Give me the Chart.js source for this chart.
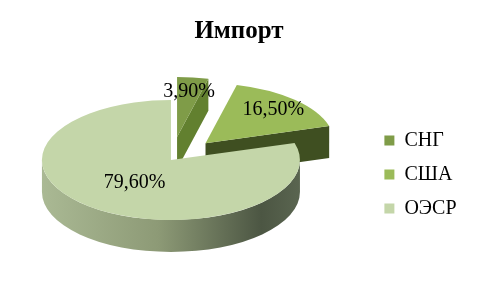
<!DOCTYPE html>
<html>
<head>
<meta charset="utf-8">
<script src="https://cdn.jsdelivr.net/npm/chart.js@4.4.1/dist/chart.umd.min.js"></script>
<style>
  html, body { margin: 0; padding: 0; background: #fff; }
</style>
</head>
<body>
<canvas id="importChart" width="478" height="299"></canvas>
<script>
// данные
const regions = ['СНГ', 'США', 'ОЭСР'];
const shares = [3.9, 16.5, 79.6];

// цвета: верх долей, боковые грани, тень обода
const topColors = ['#7f9c48', '#9bbb59', '#c4d6a9'];
const sideColors = ['#62802f', '#3f4f21', '#7b8865'];
const rimShade = ['#aab994', '#8d9a76', '#4c5643', '#5a6550'];

const TILT = 0.465;     // сплющивание круга в эллипс
const DEPTH = 32;       // толщина "3D" диска
const LABEL_POS = 0.47; // подпись вдоль радиуса
const LABEL_PUSH = 1.75; // вынесенные доли - подпись дальше

const fmt = v => v.toFixed(2).replace('.', ',') + '%';

function geom(arc) {
  const p = arc.getProps(['x', 'y', 'startAngle', 'endAngle', 'outerRadius']);
  const mid = (p.startAngle + p.endAngle) / 2;
  const off = arc.options.offset || 0;
  return {
    s: p.startAngle, e: p.endAngle, r: p.outerRadius, mid, off,
    cx: p.x + Math.cos(mid) * off,
    cy: p.y + Math.sin(mid) * off * TILT,
    x0: p.x, y0: p.y
  };
}

const pie3d = {
  id: 'pie3d',
  beforeDatasetsDraw(chart) {
    const ctx = chart.ctx;
    const arcs = chart.getDatasetMeta(0).data;
    const faces = [];

    arcs.forEach((arc, i) => {
      const g = geom(arc);
      const ry = g.r * TILT;
      const pt = a => [g.cx + Math.cos(a) * g.r, g.cy + Math.sin(a) * ry];

      // обод спереди
      const a1 = Math.max(g.s, 0), a2 = Math.min(g.e, Math.PI);
      if (a2 > a1) {
        faces.push({
          z: g.cy + Math.sin((a1 + a2) / 2) * ry,
          draw() {
            const grad = ctx.createLinearGradient(g.cx - g.r, 0, g.cx + g.r, 0);
            grad.addColorStop(0, rimShade[0]);
            grad.addColorStop(0.45, rimShade[1]);
            grad.addColorStop(0.85, rimShade[2]);
            grad.addColorStop(1, rimShade[3]);
            ctx.beginPath();
            ctx.ellipse(g.cx, g.cy, g.r, ry, 0, a1, a2);
            const [bx, by] = pt(a2);
            ctx.lineTo(bx, by + DEPTH);
            ctx.ellipse(g.cx, g.cy + DEPTH, g.r, ry, 0, a2, a1, true);
            ctx.closePath();
            ctx.fillStyle = grad;
            ctx.fill();
          }
        });
      }

      // радиальные грани
      [[g.s, Math.cos(g.s) < 0], [g.e, Math.cos(g.e) > 0]].forEach(([a, visible]) => {
        if (!visible) return;
        const [px, py] = pt(a);
        faces.push({
          z: (g.cy + py) / 2,
          draw() {
            ctx.beginPath();
            ctx.moveTo(g.cx, g.cy);
            ctx.lineTo(px, py);
            ctx.lineTo(px, py + DEPTH);
            ctx.lineTo(g.cx, g.cy + DEPTH);
            ctx.closePath();
            ctx.fillStyle = sideColors[i];
            ctx.fill();
          }
        });
      });
    });

    ctx.save();
    faces.sort((a, b) => a.z - b.z).forEach(f => f.draw());

    // верх долей
    arcs.forEach(arc => {
      const g = geom(arc);
      ctx.beginPath();
      ctx.moveTo(g.cx, g.cy);
      ctx.ellipse(g.cx, g.cy, g.r, g.r * TILT, 0, g.s, g.e);
      ctx.closePath();
      ctx.fillStyle = arc.options.backgroundColor;
      ctx.fill();
    });
    ctx.restore();
    return false;
  },
  afterDraw(chart) {
    const ctx = chart.ctx;
    const arcs = chart.getDatasetMeta(0).data;
    ctx.save();
    ctx.font = '20px "Liberation Serif"';
    ctx.fillStyle = '#000';
    ctx.textAlign = 'center';
    ctx.textBaseline = 'middle';
    arcs.forEach((arc, i) => {
      const g = geom(arc);
      const d = g.r * LABEL_POS + g.off * LABEL_PUSH;
      ctx.fillText(fmt(shares[i]), g.x0 + Math.cos(g.mid) * d, g.y0 + Math.sin(g.mid) * d * TILT);
    });
    ctx.restore();
  }
};

new Chart(document.getElementById('importChart'), {
  type: 'pie',
  data: {
    labels: regions,
    datasets: [{
      data: shares,
      backgroundColor: topColors,
      borderWidth: 0,
      offset: [50, 50, 0]
    }]
  },
  options: {
    responsive: false,
    animation: false,
    events: [],
    radius: 129,
    rotation: 0,
    layout: { padding: { left: 11.5, right: 11.5, top: 0, bottom: 30 } },
    scales: {
      spacer: {
        type: 'linear',
        position: 'right',
        display: true,
        ticks: { display: false },
        grid: { display: false },
        border: { display: false },
        afterFit: s => { s.width = 40; }
      }
    },
    plugins: {
      title: {
        display: true,
        text: 'Импорт',
        color: '#000',
        font: { family: 'Liberation Serif', size: 25, weight: 'bold' },
        padding: { top: 17, bottom: 4 }
      },
      legend: {
        position: 'right',
        title: { display: true, text: '', font: { size: 10 }, padding: { top: 68, bottom: 0 } },
        labels: {
          color: '#000',
          font: { family: 'Liberation Serif', size: 20 },
          boxWidth: 10,
          boxHeight: 10,
          padding: 14
        }
      },
      tooltip: { enabled: false }
    }
  },
  plugins: [pie3d]
});
</script>
</body>
</html>
